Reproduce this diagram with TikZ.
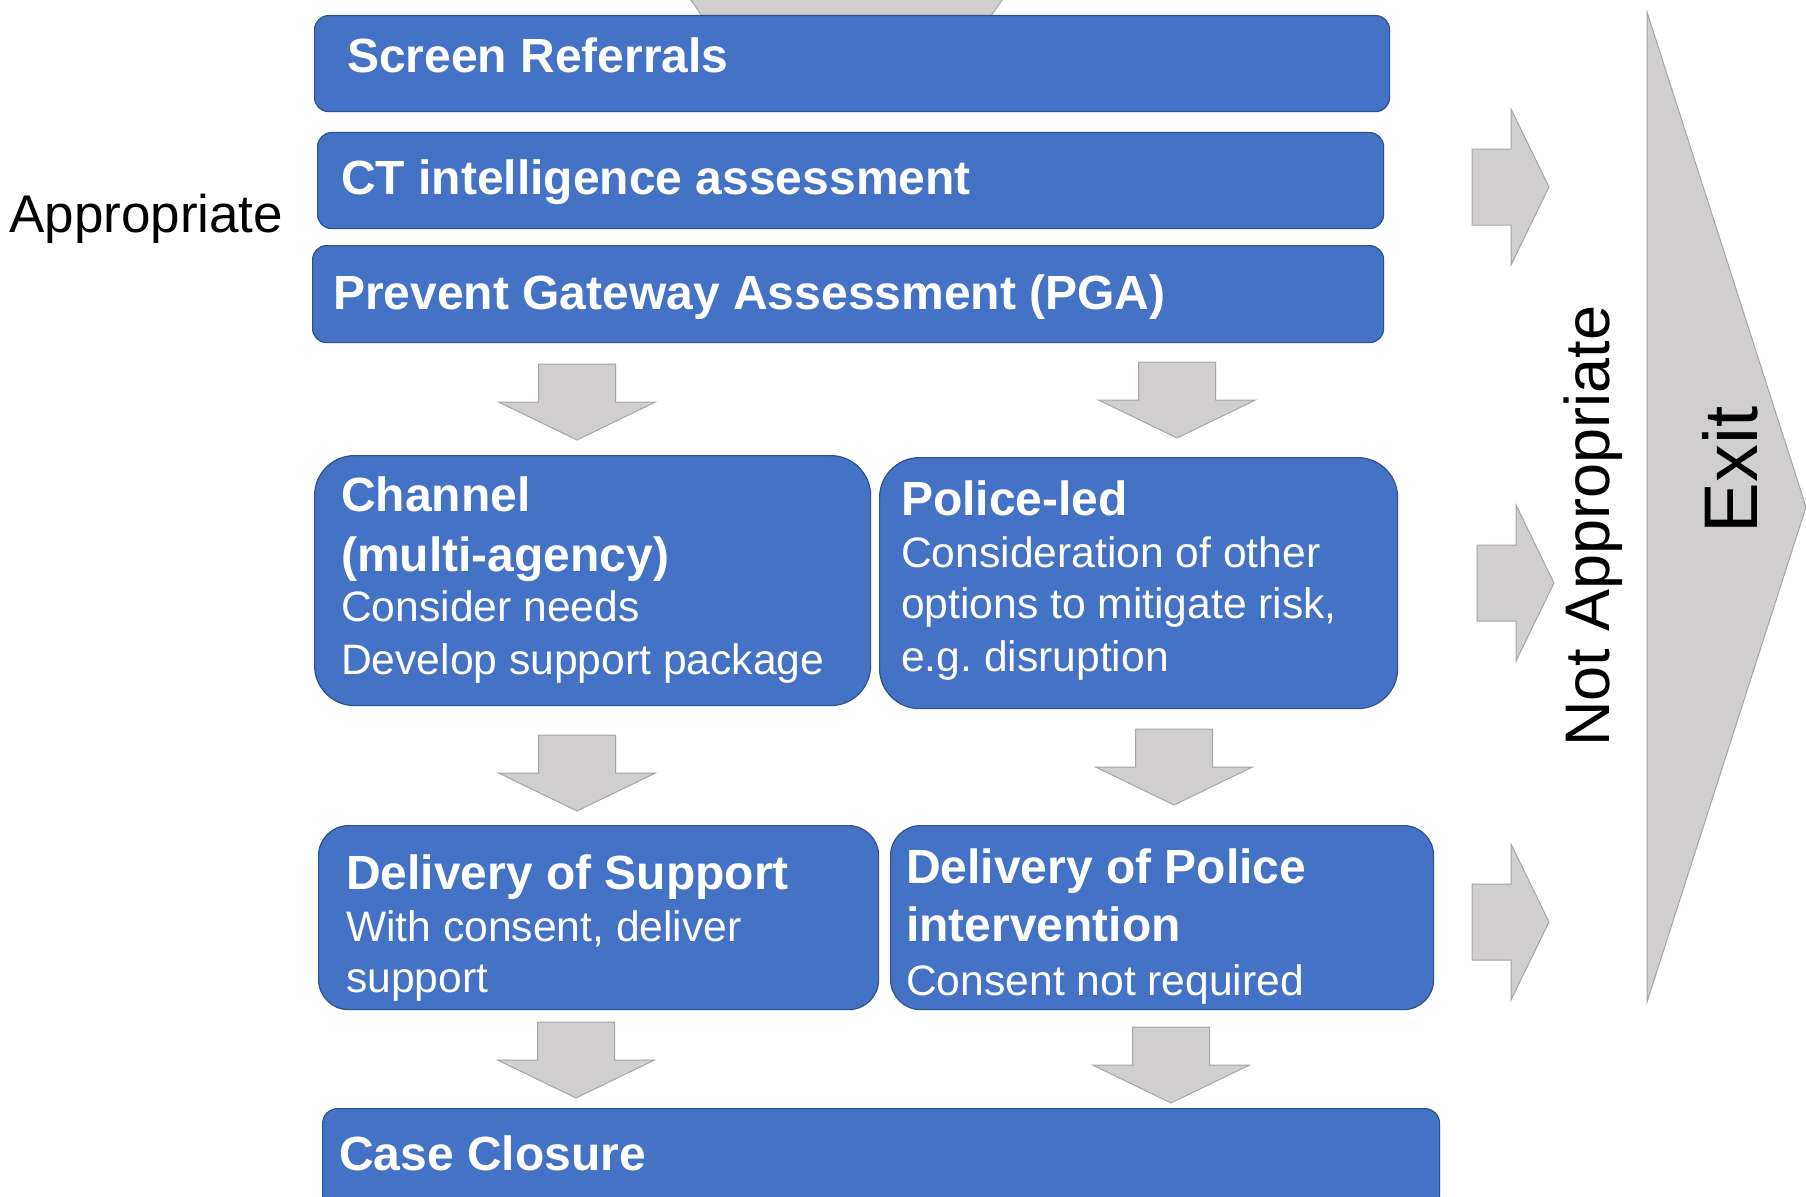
\documentclass[tikz,border=0pt]{standalone}
\usepackage{fontspec}
\setmainfont{Liberation Sans}
\definecolor{boxblue}{HTML}{4472C4}
\definecolor{boxedge}{HTML}{2F528F}
\definecolor{arrfill}{HTML}{D0CECE}
\definecolor{arredge}{HTML}{A6A6A6}
\tikzset{
  bluebox/.style={draw=boxedge, line width=1.2pt, fill=boxblue, inner sep=0pt, anchor=north west},
  grayshape/.style={draw=arredge, line width=1pt, fill=arrfill, line join=miter},
  hd/.style={anchor=base west, inner sep=0pt, text=white, font=\fontsize{48}{56}\selectfont\bfseries},
  bd/.style={anchor=base west, inner sep=0pt, text=white, font=\fontsize{42.6}{50}\selectfont},
  darr/.pic={\path[grayshape] (-38.5,0) -- (38.5,0) -- (38.5,38) -- (78.5,38) -- (0,76) -- (-78.5,38) -- (-38.5,38) -- cycle;},
  rarr/.pic={\path[grayshape] (0,-38) -- (39,-38) -- (39,-78) -- (77,0) -- (39,78) -- (39,38) -- (0,38) -- cycle;}
}
\begin{document}
\begin{tikzpicture}[x=1pt,y=-1pt]
\useasboundingbox (0,0) rectangle (1806,1196);
\clip (0,0) rectangle (1806,1196);
\fill[white] (0,0) rectangle (1806,1196);

% incoming arrow at the top (cut off)
\path[grayshape] (688,-4) -- (1005,-4) -- (974,40) -- (719,40) -- cycle;

% exit chevron
\path[grayshape] (1647,12) -- (1806,507) -- (1647,1002) -- cycle;

% boxes
\node[bluebox, rounded corners=14pt, minimum width=1075pt, minimum height=96pt] (screen) at (314,15) {};
\node[bluebox, rounded corners=14pt, minimum width=1066pt, minimum height=96pt] (ct) at (317,132) {};
\node[bluebox, rounded corners=14pt, minimum width=1071pt, minimum height=97pt] (pga) at (312,245) {};
\node[bluebox, rounded corners=40pt, minimum width=556pt, minimum height=250pt] (channel) at (314,455) {};
\node[bluebox, rounded corners=40pt, minimum width=518pt, minimum height=251pt] (police) at (879,457) {};
\node[bluebox, rounded corners=30pt, minimum width=560pt, minimum height=184pt] (delsup) at (318,825) {};
\node[bluebox, rounded corners=30pt, minimum width=543pt, minimum height=184pt] (delpol) at (890,825) {};
\node[bluebox, rounded corners=15pt, minimum width=1117pt, minimum height=140pt] (closure) at (322,1108) {};

% down arrows
\pic at (577,364) {darr};
\pic at (1177,362) {darr};
\pic at (577,735) {darr};
\pic at (1174,729) {darr};
\pic at (576,1022) {darr};
\pic at (1171,1027) {darr};

% right arrows
\pic at (1472,187) {rarr};
\pic at (1477,583) {rarr};
\pic at (1472,922) {rarr};

% texts
\node[hd] (t1) at (347,73) {Screen Referrals};
\node[hd] (t2) at (341,194) {CT intelligence assessment};
\node[hd] (t3) at (333,309) {Prevent Gateway Assessment (PGA)};

\node[hd] (c1) at (341,511) {Channel};
\node[hd] (c2) at (341,571) {(multi-agency)};
\node[bd] (c3) at (341,621) {Consider needs};
\node[bd] (c4) at (341,674) {Develop support package};

\node[hd] (p1) at (901,515) {Police-led};
\node[bd] (p2) at (901,567) {Consideration of other};
\node[bd] (p3) at (901,618) {options to mitigate risk,};
\node[bd] (p4) at (901,671) {e.g.\ disruption};

\node[hd] (s1) at (346,889) {Delivery of Support};
\node[bd] (s2) at (346,941) {With consent, deliver};
\node[bd] (s3) at (346,992) {support};

\node[hd] (d1) at (906,883) {Delivery of Police};
\node[hd] (d2) at (906,941) {intervention};
\node[bd] (d3) at (906,995) {Consent not required};

\node[hd] (k1) at (339,1170) {Case Closure};

\node[anchor=base west, inner sep=0pt, font=\fontsize{53}{60}\selectfont] (app) at (9,232) {Appropriate};
\node[anchor=base, inner sep=0pt, rotate=90, font=\fontsize{63}{70}\selectfont] (notapp) at (1609,526) {Not Appropriate};
\node[anchor=base, inner sep=0pt, rotate=90, font=\fontsize{76}{80}\selectfont] (exit) at (1757,470) {Exit};
\end{tikzpicture}
\end{document}
